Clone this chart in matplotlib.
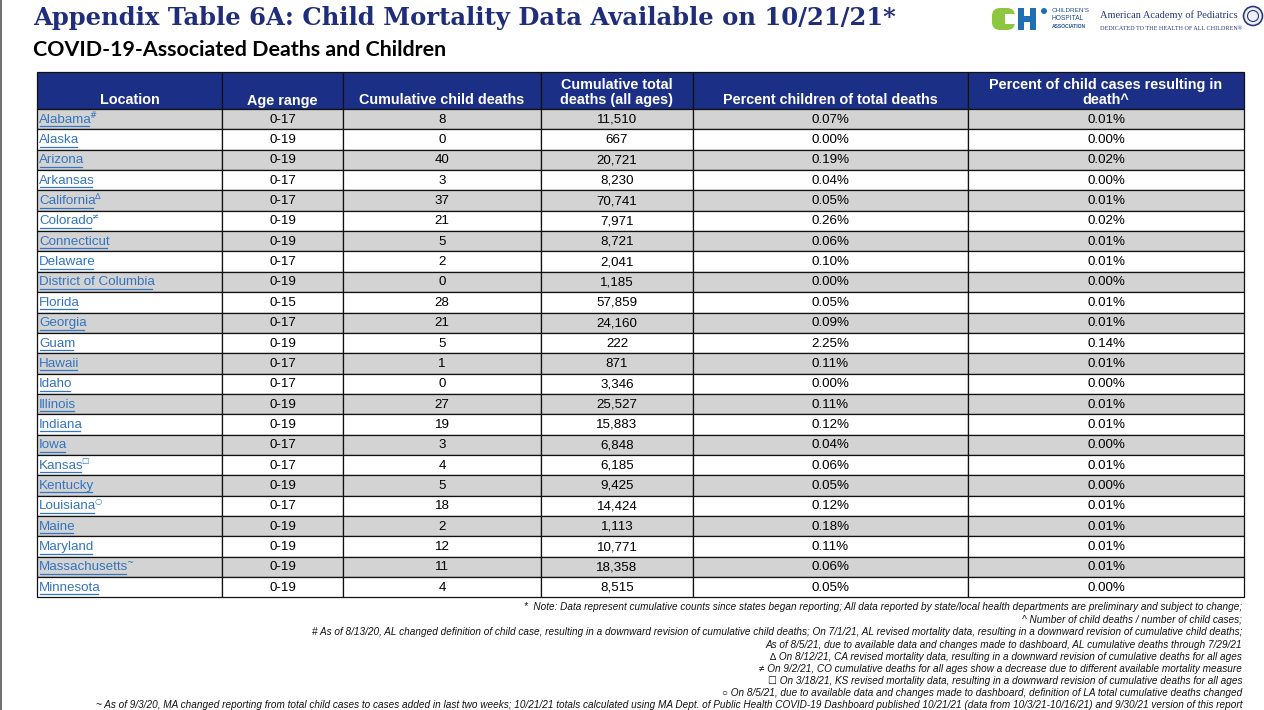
import matplotlib
matplotlib.use("Agg")
import matplotlib.pyplot as plt
from matplotlib.patches import Rectangle, Circle, FancyBboxPatch
from matplotlib.lines import Line2D

# ---------------- data ----------------
locations = ["Alabama", "Alaska", "Arizona", "Arkansas", "California", "Colorado",
             "Connecticut", "Delaware", "District of Columbia", "Florida", "Georgia",
             "Guam", "Hawaii", "Idaho", "Illinois", "Indiana", "Iowa", "Kansas",
             "Kentucky", "Louisiana", "Maine", "Maryland", "Massachusetts", "Minnesota"]
location_marks = ["#", "", "", "", "\u2206", "\u2260", "", "", "", "", "", "", "", "",
                  "", "", "", "\u2610", "", "\u25cb", "", "", "~", ""]
age_ranges = ["0-17", "0-19", "0-19", "0-17", "0-17", "0-19", "0-19", "0-17", "0-19",
              "0-15", "0-17", "0-19", "0-17", "0-17", "0-19", "0-19", "0-17", "0-17",
              "0-19", "0-17", "0-19", "0-19", "0-19", "0-19"]
child_deaths = [8, 0, 40, 3, 37, 21, 5, 2, 0, 28, 21, 5, 1, 0, 27, 19, 3, 4, 5, 18, 2,
                12, 11, 4]
total_deaths = [11510, 667, 20721, 8230, 70741, 7971, 8721, 2041, 1185, 57859, 24160,
                222, 871, 3346, 25527, 15883, 6848, 6185, 9425, 14424, 1113, 10771,
                18358, 8515]
pct_children_of_total = [0.07, 0.00, 0.19, 0.04, 0.05, 0.26, 0.06, 0.10, 0.00, 0.05,
                         0.09, 2.25, 0.11, 0.00, 0.11, 0.12, 0.04, 0.06, 0.05, 0.12,
                         0.18, 0.11, 0.06, 0.05]
pct_child_cases_death = [0.01, 0.00, 0.02, 0.00, 0.01, 0.02, 0.01, 0.01, 0.00, 0.01,
                         0.01, 0.14, 0.01, 0.00, 0.01, 0.01, 0.00, 0.01, 0.00, 0.01,
                         0.01, 0.01, 0.01, 0.00]
headers = ["Location", "Age range", "Cumulative child deaths",
           "Cumulative total\ndeaths (all ages)", "Percent children of total deaths",
           "Percent of child cases resulting in\ndeath^"]
title = "Appendix Table 6A: Child Mortality Data Available on 10/21/21*"
subtitle = "COVID-19-Associated Deaths and Children"
footnotes = [
    "*  Note: Data represent cumulative counts since states began reporting; All data reported by state/local health departments are preliminary and subject to change;",
    "^ Number of child deaths / number of child cases;",
    "# As of 8/13/20, AL changed definition of child case, resulting in a downward revision of cumulative child deaths; On 7/1/21, AL revised mortality data, resulting in a downward revision of cumulative child deaths;",
    "As of 8/5/21, due to available data and changes made to dashboard, AL cumulative deaths through 7/29/21",
    "\u2206 On 8/12/21, CA revised mortality data, resulting in a downward revision of cumulative deaths for all ages",
    "\u2260 On 9/2/21, CO cumulative deaths for all ages show a decrease due to different available mortality measure",
    "\u2610 On 3/18/21, KS revised mortality data, resulting in a downward revision of cumulative deaths for all ages",
    "\u25cb On 8/5/21, due to available data and changes made to dashboard, definition of LA total cumulative deaths changed",
    "~ As of 9/3/20, MA changed reporting from total child cases to cases added in last two weeks; 10/21/21 totals calculated using MA Dept. of Public Health COVID-19 Dashboard published 10/21/21 (data from 10/3/21-10/16/21) and 9/30/21 version of this report",
]

# ---------------- style ----------------
plt.rcParams['font.family'] = ['Liberation Sans', 'DejaVu Sans']
NAVY = "#1c2f86"
TITLE_NAVY = "#1f2d7b"
GRAY = "#d3d3d3"
LINK = "#3474c0"

W, H = 1264, 710
fig = plt.figure(figsize=(W / 100, H / 100), dpi=100)
ax = fig.add_axes([0, 0, 1, 1])
ax.set_xlim(0, W)
ax.set_ylim(H, 0)
ax.axis('off')
fig.canvas.draw()
renderer = fig.canvas.get_renderer()
inv = ax.transData.inverted()


def fitted_text(x, y, s, target_w, fs, **kw):
    """Place text, then rescale font size so that it spans target_w pixels."""
    t = ax.text(x, y, s, fontsize=fs, **kw)
    w = t.get_window_extent(renderer).width
    t.set_fontsize(fs * target_w / w)
    return t


# page left border
ax.add_line(Line2D([1, 1], [0, H], color="#555555", lw=1.2))

# titles
fitted_text(33, 18, title, 865, 18, fontweight='bold', color=TITLE_NAVY,
            family=['DejaVu Serif'], va='center', ha='left')
fitted_text(33, 49.5, subtitle, 414, 14, fontweight='bold', color='black',
            family=['Lato', 'DejaVu Sans'], va='center', ha='left')

# logos (approximate)
ax.add_patch(FancyBboxPatch((992, 8), 23, 22, boxstyle="round,pad=0,rounding_size=8",
                            fc="#8dc63f", ec='none'))
ax.add_patch(Rectangle((1005, 14), 10, 10, fc='white', ec='none'))
ax.add_patch(Rectangle((1018, 8), 6, 22, fc="#1f6fb5", ec='none'))
ax.add_patch(Rectangle((1030, 8), 6, 22, fc="#1f6fb5", ec='none'))
ax.add_patch(Rectangle((1018, 16), 18, 6, fc="#1f6fb5", ec='none'))
ax.add_patch(Circle((1044, 11), 3, fc="#1f6fb5", ec='none'))
ax.text(1052, 10, "CHILDREN'S", fontsize=4.6, color="#1f4f8f", va='center')
ax.text(1052, 18, "HOSPITAL", fontsize=4.8, color="#1f4f8f", va='center')
ax.text(1052, 26, "ASSOCIATION", fontsize=3.6, color="#1f4f8f", va='center',
        fontweight='bold')
fitted_text(1100, 15, "American Academy of Pediatrics", 138, 8, color="#2a3a7c",
            family=['Liberation Serif'], va='center')
fitted_text(1100, 28, "DEDICATED TO THE HEALTH OF ALL CHILDREN\u00ae", 140, 4,
            color="#2a3a7c", family=['Liberation Serif', 'DejaVu Serif'], va='center')
ax.add_patch(Circle((1253, 16), 9.5, fc='#eef0f6', ec="#2a3a7c", lw=1.2))
ax.add_patch(Circle((1253, 16), 5.5, fc='none', ec="#2a3a7c", lw=0.8))

# ---------------- table ----------------
col_edges = [37, 222, 343, 541, 693, 968, 1244]
header_top, header_bot = 72, 109
row_h = 20.35
LW = 0.9

# header
for c in range(len(headers)):
    x0, x1 = col_edges[c], col_edges[c + 1]
    ax.add_patch(Rectangle((x0, header_top), x1 - x0, header_bot - header_top,
                           fc=NAVY, ec='#111111', lw=LW))
    lab = headers[c]
    yc = 92.5 if "\n" in lab else 100.5
    ax.text((x0 + x1) / 2, yc, lab, color='white', fontweight='bold', fontsize=10.4,
            ha='center', va='center', linespacing=1.15)

body_fs = 9.6
for i in range(len(locations)):
    y0 = header_bot + i * row_h
    yc = y0 + row_h / 2
    fc = GRAY if i % 2 == 0 else 'white'
    for c in range(len(headers)):
        x0, x1 = col_edges[c], col_edges[c + 1]
        ax.add_patch(Rectangle((x0, y0), x1 - x0, row_h, fc=fc, ec='#111111', lw=LW))
    # location link
    t = ax.text(col_edges[0] + 2, yc + 0.5, locations[i], color=LINK, fontsize=body_fs,
                ha='left', va='center')
    bb = t.get_window_extent(renderer)
    (bx0, _), (bx1, _) = inv.transform([[bb.x0, bb.y0], [bb.x1, bb.y1]])
    bx1 -= 2.5
    ax.add_line(Line2D([bx0 + 0.5, bx1], [yc + 7.0, yc + 7.0], color=LINK, lw=0.9))
    if location_marks[i]:
        ax.text(bx1 + 0.5, yc - 4, location_marks[i], color=LINK, fontsize=6,
                ha='left', va='center', family=['DejaVu Sans'])
    vals = [age_ranges[i], f"{child_deaths[i]}", f"{total_deaths[i]:,}",
            f"{pct_children_of_total[i]:.2f}%", f"{pct_child_cases_death[i]:.2f}%"]
    for c, v in enumerate(vals, start=1):
        ax.text((col_edges[c] + col_edges[c + 1]) / 2, yc + 0.5, v, fontsize=body_fs,
                ha='center', va='center', color='black')

# ---------------- footnotes ----------------
fn_y = [607, 619.5, 632, 644.5, 657, 669, 681, 693, 705]
fn_fs = 7.0
probe = ax.text(0, 0, footnotes[-1], fontsize=fn_fs, style='italic')
pb = probe.get_window_extent(renderer)
probe.remove()
fn_fs = fn_fs * 1138 / pb.width
for txt, y in zip(footnotes, fn_y):
    ax.text(1242, y, txt, fontsize=fn_fs, style='italic', ha='right', va='center',
            color='#111111')

fig.savefig("out.png", dpi=100)
